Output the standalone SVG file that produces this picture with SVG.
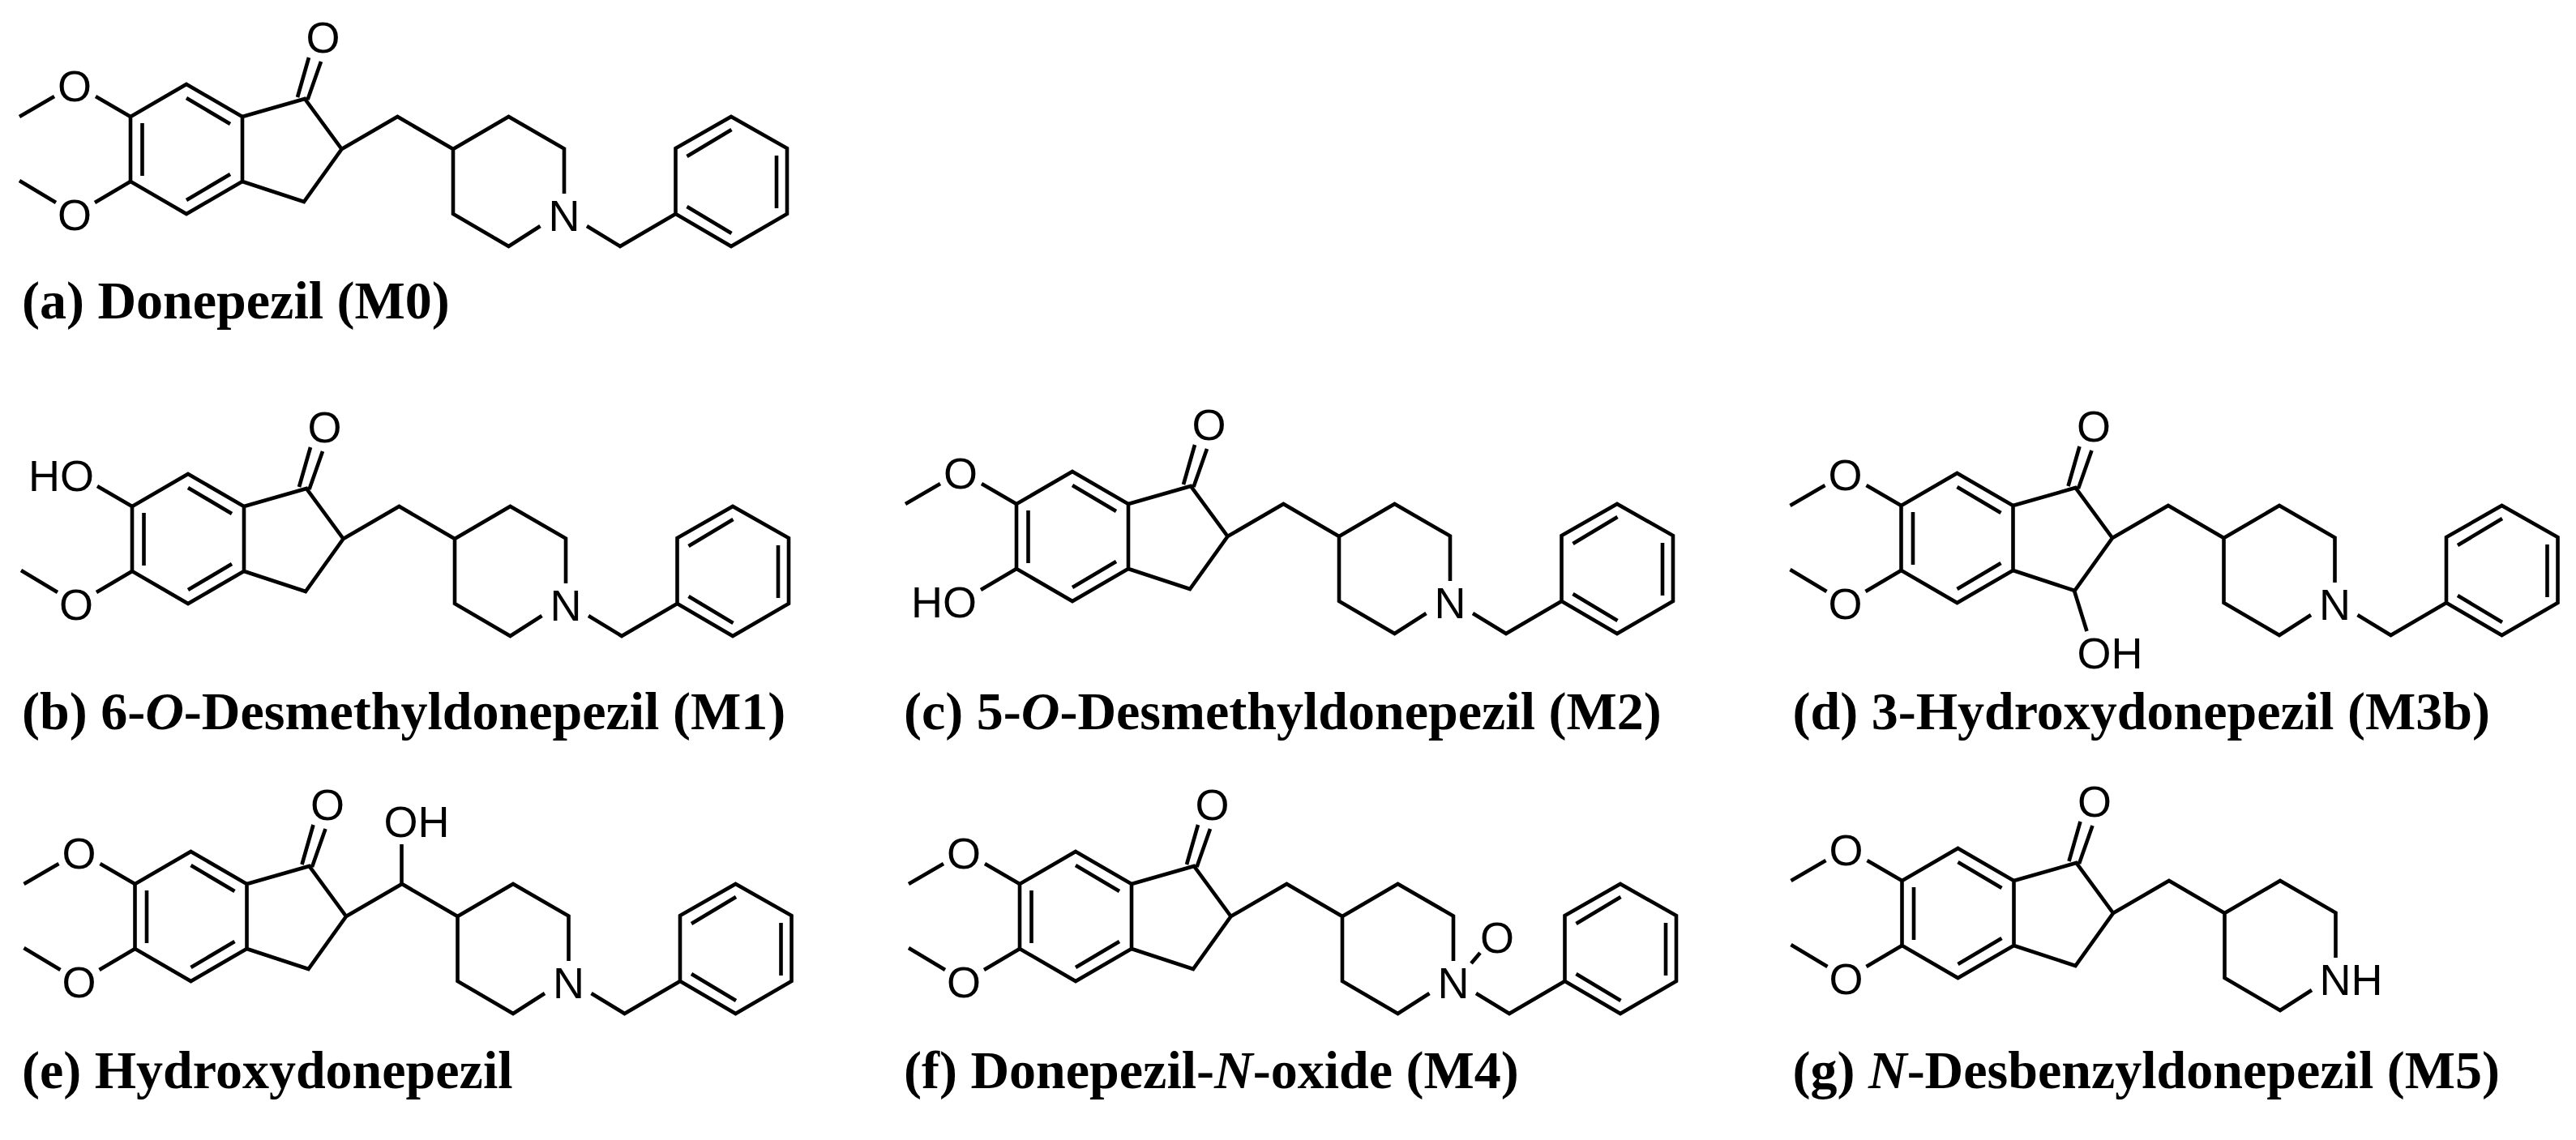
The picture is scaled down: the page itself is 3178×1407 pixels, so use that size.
<svg xmlns="http://www.w3.org/2000/svg" xmlns:xlink="http://www.w3.org/1999/xlink" width="3178" height="1407" viewBox="0 0 3178 1407">
<style>
.b{fill:none;stroke:#000;stroke-width:4.6;stroke-linejoin:miter;stroke-linecap:butt}
.a{font-family:"Liberation Sans",Arial,sans-serif;font-size:54px;fill:#000}
.m{text-anchor:middle}
.e{text-anchor:end}
.l{font-family:"Liberation Serif","Times New Roman",serif;font-size:66px;font-weight:bold;fill:#000}
.l tspan{font-style:italic}
</style>
<defs>
<path id="core" class="b" d="M230 104L299 144V224L230 264L161 224V144ZM230 121L284 153M230 247L284 215M175.5 152V217M299 144L376 122L421.5 184L375 249L299 224M367 120L381 71M379.5 123L396 76M421.5 184L490.4 144L559 184M559 184L627.5 144L696 183.5V239M559 184V264L627.5 304L666.5 279"/>
<path id="bn" class="b" d="M724 279L765 304L833.5 264M833.5 264V183L902 144L971 183V264L902 304ZM847.5 193L902.5 160M958 192V257M847.5 255L902.5 288"/>
<path id="up" class="b" d="M118 119L161 144"/>
<path id="upme" class="b" d="M67 119L24 144"/>
<path id="lo" class="b" d="M117 250L161 224"/>
<path id="lome" class="b" d="M69 250L24 223"/>
</defs>
<g id="a-donepezil">
<g transform="translate(0,0)">
<use xlink:href="#core"/><use xlink:href="#bn"/><use xlink:href="#up"/><use xlink:href="#upme"/><use xlink:href="#lo"/><use xlink:href="#lome"/>
<text class="a m" x="398.5" y="65">O</text><text class="a m" x="92" y="125">O</text><text class="a m" x="92" y="284">O</text><text class="a m" x="696" y="285">N</text>
</g>
<text class="l" x="27" y="393">(a) Donepezil (M0)</text>
</g>
<g id="b-m1">
<g transform="translate(2,481)">
<use xlink:href="#core"/><use xlink:href="#bn"/><use xlink:href="#up"/><use xlink:href="#lo"/><use xlink:href="#lome"/>
<text class="a m" x="398.5" y="65">O</text><text class="a e" x="114" y="125">HO</text><text class="a m" x="92" y="284">O</text><text class="a m" x="696" y="285">N</text>
</g>
<text class="l" x="27" y="900">(b) 6-<tspan>O</tspan>-Desmethyldonepezil (M1)</text>
</g>
<g id="c-m2">
<g transform="translate(1093,478)">
<use xlink:href="#core"/><use xlink:href="#bn"/><use xlink:href="#up"/><use xlink:href="#upme"/><use xlink:href="#lo"/>
<text class="a m" x="398.5" y="65">O</text><text class="a m" x="92" y="125">O</text><text class="a e" x="112" y="284">HO</text><text class="a m" x="696" y="285">N</text>
</g>
<text class="l" x="1115" y="900">(c) 5-<tspan>O</tspan>-Desmethyldonepezil (M2)</text>
</g>
<g id="d-m3b">
<g transform="translate(2184.5,480)">
<use xlink:href="#core"/><use xlink:href="#bn"/><use xlink:href="#up"/><use xlink:href="#upme"/><use xlink:href="#lo"/><use xlink:href="#lome"/>
<path class="b" d="M374.5 249L390 299"/>
<text class="a m" x="398.5" y="65">O</text><text class="a m" x="92" y="125">O</text><text class="a m" x="92" y="284">O</text><text class="a m" x="696" y="285">N</text><text class="a" x="378" y="345">OH</text>
</g>
<text class="l" x="2211.5" y="900">(d) 3-Hydroxydonepezil (M3b)</text>
</g>
<g id="e-hydroxy">
<g transform="translate(5.5,947)">
<use xlink:href="#core"/><use xlink:href="#bn"/><use xlink:href="#up"/><use xlink:href="#upme"/><use xlink:href="#lo"/><use xlink:href="#lome"/>
<path class="b" d="M490 144V95"/>
<text class="a m" x="398.5" y="65">O</text><text class="a m" x="92" y="125">O</text><text class="a m" x="92" y="284">O</text><text class="a m" x="696" y="285">N</text><text class="a" x="468" y="86">OH</text>
</g>
<text class="l" x="27" y="1343">(e) Hydroxydonepezil</text>
</g>
<g id="f-m4">
<g transform="translate(1097,947)">
<use xlink:href="#core"/><use xlink:href="#bn"/><use xlink:href="#up"/><use xlink:href="#upme"/><use xlink:href="#lo"/><use xlink:href="#lome"/>
<path class="b" d="M718 242L729 229"/>
<text class="a m" x="398.5" y="65">O</text><text class="a m" x="92" y="125">O</text><text class="a m" x="92" y="284">O</text><text class="a m" x="696" y="285">N</text><text class="a m" x="750" y="229">O</text>
</g>
<text class="l" x="1115" y="1343">(f) Donepezil-<tspan>N</tspan>-oxide (M4)</text>
</g>
<g id="g-m5">
<g transform="translate(2185.5,943)">
<use xlink:href="#core"/><use xlink:href="#up"/><use xlink:href="#upme"/><use xlink:href="#lo"/><use xlink:href="#lome"/>
<text class="a m" x="398.5" y="65">O</text><text class="a m" x="92" y="125">O</text><text class="a m" x="92" y="284">O</text><text class="a" x="676" y="285">NH</text>
</g>
<text class="l" x="2211.5" y="1343">(g) <tspan>N</tspan>-Desbenzyldonepezil (M5)</text>
</g>
</svg>
